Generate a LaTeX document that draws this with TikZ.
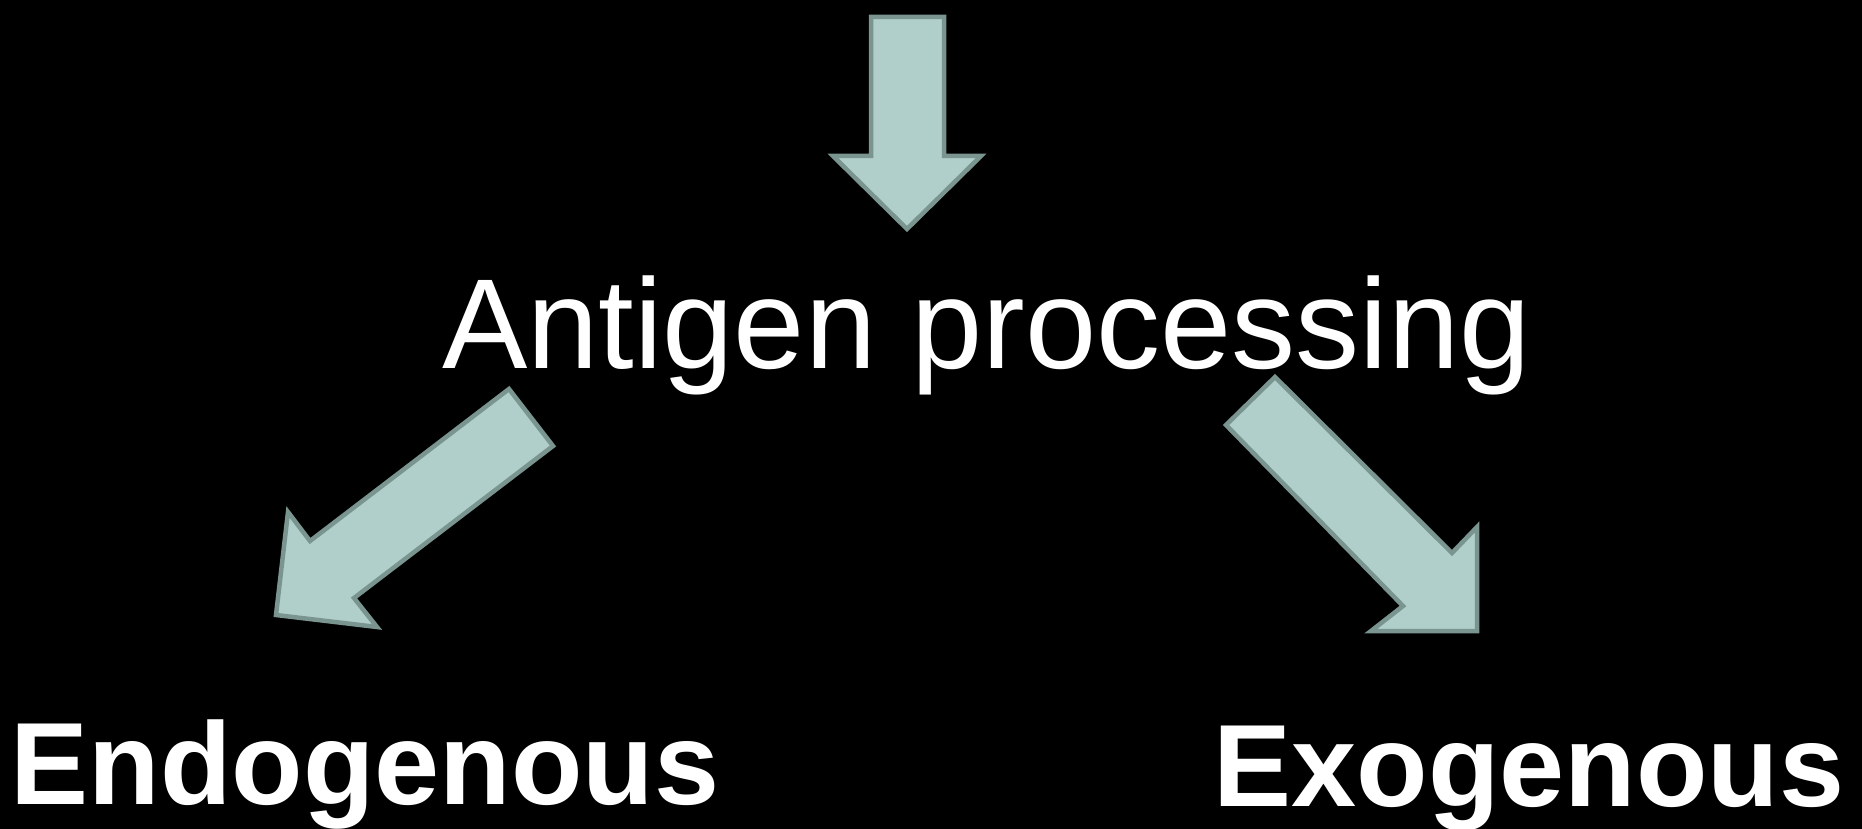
\documentclass[tikz,border=0pt]{standalone}
\usepackage{fontspec}
\setmainfont{Liberation Sans}
\definecolor{arrowfill}{HTML}{B0CFCA}
\definecolor{arrowedge}{HTML}{7A958F}
\tikzset{
  blockarrow/.style={fill=arrowfill, draw=arrowedge, line width=4.5pt, line join=miter},
  title/.style={text=white, inner sep=0pt, anchor=base west, font=\fontsize{128}{150}\selectfont},
  branch/.style={text=white, inner sep=0pt, anchor=base west, font=\fontsize{117}{140}\selectfont\bfseries}
}
\begin{document}
\begin{tikzpicture}[x=1pt, y=-1pt]
  % black page
  \fill[black] (0,0) rectangle (1862,829);
  \useasboundingbox (0,0) rectangle (1862,829);

  % downward arrow into the title
  \draw[blockarrow] (871,17) -- (944,17) -- (944,156) -- (981,156) -- (907,229)
    -- (833,156) -- (871,156) -- cycle;

  % title
  \node[title] (proc) at (442,368) {Antigen processing};

  % arrow to the lower left
  \draw[blockarrow] (509,389) -- (553,446) -- (354,598) -- (377,627) -- (276,615)
    -- (288,512) -- (310,541) -- cycle;

  % arrow to the lower right
  \draw[blockarrow] (1275,377) -- (1226,425) -- (1403,606) -- (1371,631) -- (1477,631)
    -- (1477,527) -- (1452,553) -- cycle;

  % branch labels
  \node[branch] (endo) at (10.5,804) {Endogenous};
  \node[branch] (exo) at (1213.5,806) {Exogenous};
\end{tikzpicture}
\end{document}
